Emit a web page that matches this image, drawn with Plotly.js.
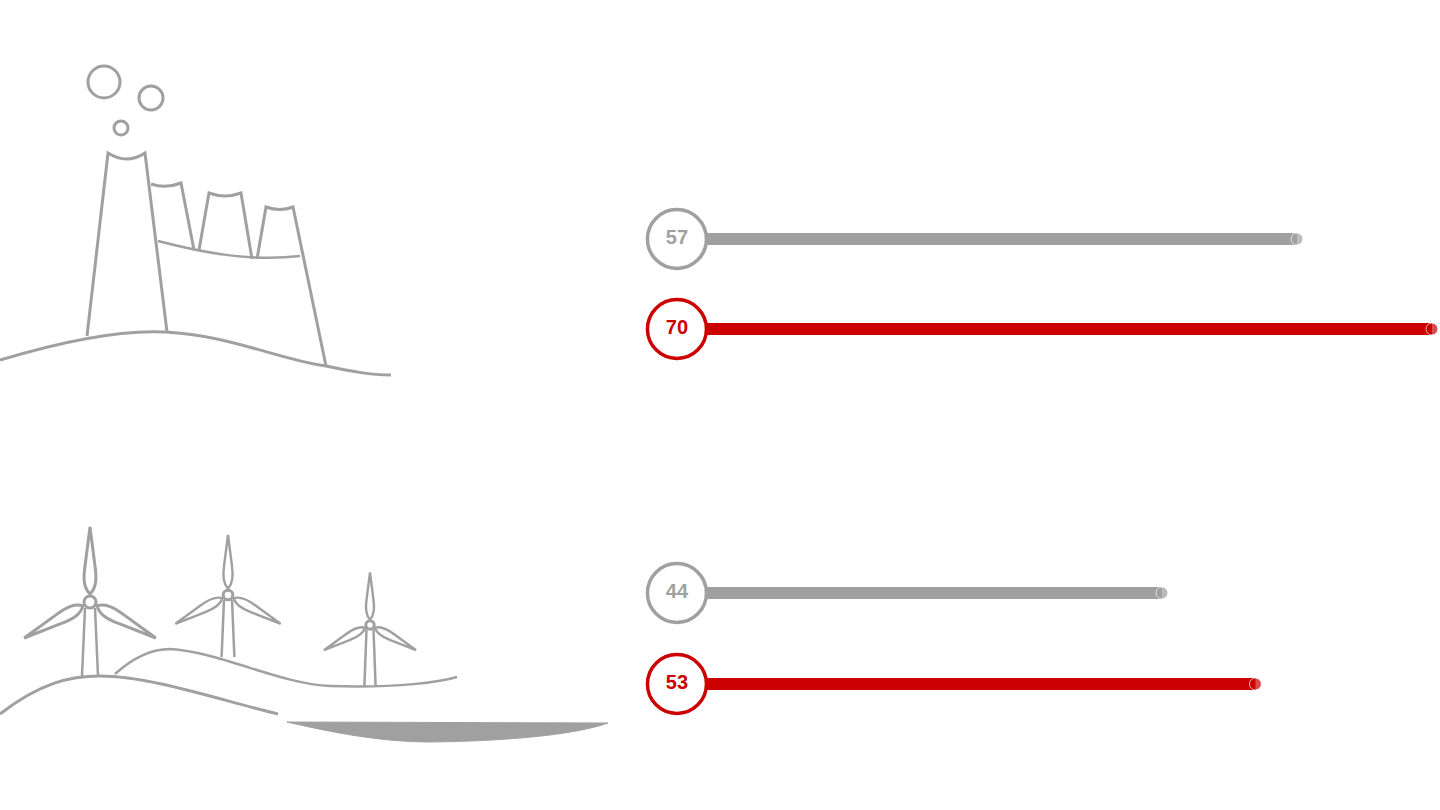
<!DOCTYPE html>
<html><head><meta charset="utf-8">
<script src="https://cdn.plot.ly/plotly-3.0.1.min.js"></script>
<style>html,body{margin:0;padding:0;background:#fff}#c{width:1440px;height:810px}</style>
</head><body><div id="c"></div>
<script>
// Data
const groups = ['Fossil', 'Fossil', 'Wind', 'Wind'];
const series = ['A', 'B', 'A', 'B'];
const values = [57, 70, 44, 53];
const labels = ['57', '70', '44', '53'];

const GRAY = '#a0a0a0', RED = '#cc0000';
const colors = series.map(s => s === 'A' ? GRAY : RED);
const rowY = [239, 329, 593, 684];
const circleX = -2.7;

const traces = [];
values.forEach((v, i) => {
  traces.push({type: 'scatter', mode: 'lines+markers', x: [circleX, v], y: [rowY[i], rowY[i]],
    line: {color: colors[i], width: 12}, marker: {size: [0, 12], color: colors[i]},
    hoverinfo: 'skip', showlegend: false});
});
traces.push({type: 'scatter', mode: 'markers+text', x: values.map(() => circleX), y: rowY,
  text: labels, textposition: 'middle center',
  textfont: {family: 'Liberation Sans, Arial', size: 20, color: colors, weight: 'bold'},
  marker: {size: 59, color: '#fff', line: {color: colors, width: 3.5}},
  showlegend: false, hoverinfo: 'skip'});

// Illustration (decorative shapes, pixel coordinates on overlay axes)
const st = {type: 'path', xref: 'x2', yref: 'y2', line: {color: GRAY, width: 3}};
const shapes = [];
function P(d, w, fill) { shapes.push(Object.assign({}, st, {path: d, line: {color: GRAY, width: w || 3}, fillcolor: fill || 'rgba(0,0,0,0)'})); }
function circ(cx, cy, r) { shapes.push({type: 'circle', xref: 'x2', yref: 'y2', x0: cx - r, x1: cx + r, y0: cy - r, y1: cy + r, line: {color: GRAY, width: 3}}); }
circ(104, 82, 16); circ(151, 98, 12); circ(121, 128, 7);
P('M87,336 L108,153 Q127,165 145,153 L167,332');
P('M151,184 Q166,189 181,183 L194,250');
P('M199,250 L209,193 Q225,199 241,193 L252,259');
P('M257,259 L266,207 Q280,212 293,207 L326,366');
P('M158,241 C200,252 250,262 300,256', 2.5);
P('M0,360 C80,336 130,330 165,332 C230,335 280,360 326,366 C350,371 370,375 391,375');
// wind
P('M0,714 C40,683 70,676 100,676 C150,676 220,700 278,714');
P('M115,674 C135,656 152,649 170,649 C220,652 280,684 330,686 C400,688 440,682 457,677', 2.5);
P('M287,722 L608,723 C580,733 520,741 430,742 C380,742 330,732 287,722 Z', 1, GRAY);
function turbine(cx, cy, s, bottom) {
  const blade = [[0,-8],[-6,-14],[-7,-22],[-5,-36],[0,-75],[5,-36],[7,-22],[6,-14],[0,-8]];
  [0, -118.7, 118.7].forEach(a => {
    const t = a * Math.PI / 180, c = Math.cos(t), sn = Math.sin(t);
    const pts = blade.map(([x, y]) => [cx + s * (x * c - y * sn), cy + s * (x * sn + y * c)]);
    const f = p => p[0].toFixed(1) + ',' + p[1].toFixed(1);
    P('M' + f(pts[0]) + ' C' + f(pts[1]) + ' ' + f(pts[2]) + ' ' + f(pts[3]) + ' L' + f(pts[4]) + ' L' + f(pts[5]) +
      ' C' + f(pts[6]) + ' ' + f(pts[7]) + ' ' + f(pts[8]) + ' Z', 3 * Math.max(s, 0.8));
  });
  circ(cx, cy, 6 * s);
  P('M' + (cx - 5 * s) + ',' + (cy + 6 * s) + ' L' + (cx - 8 * s) + ',' + bottom, 2.5);
  P('M' + (cx + 5 * s) + ',' + (cy + 6 * s) + ' L' + (cx + 8 * s) + ',' + bottom, 2.5);
}
turbine(90, 602, 1, 676);
turbine(228, 595, 0.8, 657);
turbine(370, 625, 0.7, 686);

const ax = {visible: false, showgrid: false, zeroline: false, fixedrange: true};
const layout = {
  width: 1440, height: 810, margin: {l: 0, r: 0, t: 0, b: 0},
  paper_bgcolor: '#fff', plot_bgcolor: '#fff', showlegend: false,
  xaxis: Object.assign({}, ax, {range: [-67.88, 70.77], domain: [0, 1]}),
  yaxis: Object.assign({}, ax, {range: [810, 0], domain: [0, 1]}),
  xaxis2: Object.assign({}, ax, {range: [0, 1440], overlaying: 'x'}),
  yaxis2: Object.assign({}, ax, {range: [810, 0], overlaying: 'y'}),
  shapes: shapes
};
Plotly.newPlot('c', traces, layout, {displayModeBar: false, staticPlot: true});
</script></body></html>
